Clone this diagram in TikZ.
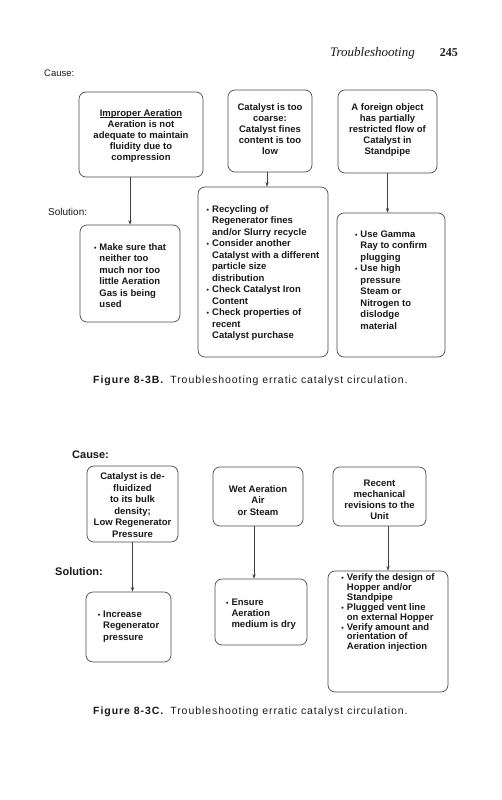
\documentclass[tikz,border=0pt]{standalone}
\usepackage{fontspec}
\setmainfont{Liberation Sans}
\newfontfamily\serifhead{Liberation Serif}
\newfontfamily\capfont{Liberation Sans}[LetterSpace=9]
\usetikzlibrary{arrows.meta}
\newcommand{\bxt}[4]{\parbox[c][#1][t]{#2}{\vspace*{#3}\centering #4}}
\newcommand{\bl}{{\fontsize{7}{7}\selectfont\textbullet}}
\newlength{\ulw}
\newcommand{\ulin}[1]{\settowidth{\ulw}{#1}\rlap{\rule[-1.8pt]{\ulw}{0.6pt}}#1}
\begin{document}
\begin{tikzpicture}[x=1pt,y=-1pt,
  box/.style={draw=black!70, line width=0.7pt, rounded corners=7pt, inner sep=0pt, text=black!90},
  arr/.style={draw=black!75, line width=0.6pt, -{Stealth[length=4.5pt,width=3.2pt]}},
  lab/.style={inner sep=0pt, text=black!90}]
\useasboundingbox (0,0) rectangle (501,800);
\fill[white] (0,0) rectangle (501,800);

% header
\node[lab, anchor=east, font=\serifhead\itshape\fontsize{13}{13}\selectfont] (hdr) at (415,53) {Troubleshooting};
\node[lab, anchor=east, font=\serifhead\bfseries\fontsize{12}{12}\selectfont] (pg) at (458,53) {245};

% ---------- Figure 8-3B ----------
\node[lab, anchor=west, font=\fontsize{9.5}{10}\selectfont] (causeB) at (44,73) {Cause:};
\node[lab, anchor=west, font=\fontsize{10}{11}\selectfont] (solB) at (48,212) {Solution:};

\node[box, minimum width=124pt, minimum height=85pt] (b1) at (141,134.5)
 {\bxt{85pt}{120pt}{16.5pt}{\bfseries\fontsize{9.5}{11}\selectfont
 \begin{tabular}{@{}c@{}}\ulin{Improper Aeration}\\ Aeration is not\\ adequate to maintain\\ fluidity due to\\ compression\end{tabular}}};
\node[box, minimum width=84pt, minimum height=82pt] (b2) at (270,131)
 {\bxt{82pt}{82pt}{12.5pt}{\bfseries\fontsize{9.5}{11}\selectfont
 \begin{tabular}{@{}c@{}}Catalyst is too\\ coarse:\\ Catalyst fines\\ content is too\\ low\end{tabular}}};
\node[box, minimum width=99pt, minimum height=83pt] (b3) at (387.5,131.5)
 {\bxt{83pt}{97pt}{12.5pt}{\bfseries\fontsize{9.5}{11}\selectfont
 \begin{tabular}{@{}c@{}}A foreign object\\ has partially\\ restricted flow of\\ Catalyst in\\ Standpipe\end{tabular}}};

\node[box, minimum width=100pt, minimum height=97pt] (s1) at (130,273.5)
 {\bxt{97pt}{98pt}{17pt}{\bfseries\fontsize{9.5}{11.5}\selectfont
 \begin{tabular}{@{}l@{\hspace{3pt}}l@{}}\bl & Make sure that\\ & neither too\\ & much nor too\\ & little Aeration\\ & Gas is being\\ & used\end{tabular}}};
\node[box, minimum width=130pt, minimum height=170pt] (s2) at (263,272)
 {\bxt{170pt}{128pt}{17pt}{\bfseries\fontsize{9.5}{11.5}\selectfont
 \begin{tabular}{@{}l@{\hspace{3pt}}l@{}}\bl & Recycling of\\ & Regenerator fines\\ & and/or Slurry recycle\\
 \bl & Consider another\\ & Catalyst with a different\\ & particle size\\ & distribution\\
 \bl & Check Catalyst Iron\\ & Content\\
 \bl & Check properties of\\ & recent\\ & Catalyst purchase\end{tabular}}};
\node[box, minimum width=108pt, minimum height=144pt] (s3) at (391,285)
 {\bxt{144pt}{106pt}{16pt}{\bfseries\fontsize{9.5}{11.5}\selectfont
 \begin{tabular}{@{}l@{\hspace{3pt}}l@{}}\bl & Use Gamma\\ & Ray to confirm\\ & plugging\\
 \bl & Use high\\ & pressure\\ & Steam or\\ & Nitrogen to\\ & dislodge\\ & material\end{tabular}}};

\draw[arr] (b1.south -| s1.north) -- (s1.north);
\draw[arr] ([xshift=-3pt]b2.south) -- ([xshift=-3pt]b2.south |- s2.north);
\draw[arr] (b3.south) -- (b3.south |- s3.north);

\node[lab, anchor=west, font=\capfont\fontsize{10.5}{12}\selectfont] (capB) at (93,381)
 {{\bfseries Figure 8-3B.}\hspace{7pt}Troubleshooting erratic catalyst circulation.};

% ---------- Figure 8-3C ----------
\node[lab, anchor=west, font=\bfseries\fontsize{11}{12}\selectfont] (causeC) at (72,455) {Cause:};
\node[lab, anchor=west, font=\bfseries\fontsize{11}{12}\selectfont] (solC) at (55,572) {Solution:};

\node[box, minimum width=91pt, minimum height=76pt] (c1) at (132.5,504)
 {\bxt{76pt}{89pt}{5.5pt}{\bfseries\fontsize{9.5}{11.5}\selectfont
 \begin{tabular}{@{}c@{}}Catalyst is de-\\ fluidized\\ to its bulk\\ density;\\ Low Regenerator\\ Pressure\end{tabular}}};
\node[box, minimum width=90pt, minimum height=59pt] (c2) at (258,496.5)
 {\bxt{59pt}{88pt}{17pt}{\bfseries\fontsize{9.5}{11.5}\selectfont
 \begin{tabular}{@{}c@{}}Wet Aeration\\ Air\\ or Steam\end{tabular}}};
\node[box, minimum width=93pt, minimum height=59pt] (c3) at (379.5,496.5)
 {\bxt{59pt}{91pt}{12pt}{\bfseries\fontsize{9.5}{11}\selectfont
 \begin{tabular}{@{}c@{}}Recent\\ mechanical\\ revisions to the\\ Unit\end{tabular}}};

\node[box, minimum width=85pt, minimum height=70pt] (cs1) at (128.5,627)
 {\bxt{70pt}{83pt}{17pt}{\bfseries\fontsize{9.5}{11.5}\selectfont
 \begin{tabular}{@{}l@{\hspace{3pt}}l@{}}\bl & Increase\\ & Regenerator\\ & pressure\end{tabular}}};
\node[box, minimum width=92pt, minimum height=66pt] (cs2) at (261,612)
 {\bxt{66pt}{90pt}{18.5pt}{\bfseries\fontsize{9.5}{11.2}\selectfont
 \begin{tabular}{@{}l@{\hspace{3pt}}l@{}}\bl & Ensure\\ & Aeration\\ & medium is dry\end{tabular}}};
\node[box, minimum width=120pt, minimum height=121pt] (cs3) at (388,631.5)
 {\bxt{121pt}{118pt}{3pt}{\bfseries\fontsize{9.5}{9.8}\selectfont
 \begin{tabular}{@{}l@{\hspace{3pt}}l@{}}\bl & Verify the design of\\ & Hopper and/or\\ & Standpipe\\
 \bl & Plugged vent line\\ & on external Hopper\\
 \bl & Verify amount and\\ & orientation of\\ & Aeration injection\end{tabular}}};

\draw[arr] (c1.south) -- (c1.south |- cs1.north);
\draw[arr] ([xshift=-4pt]c2.south) -- ([xshift=-4pt]c2.south |- cs2.north);
\draw[arr] (c3.south -| cs3.north) -- (cs3.north);

\node[lab, anchor=west, font=\capfont\fontsize{10.5}{12}\selectfont] (capC) at (93,712)
 {{\bfseries Figure 8-3C.}\hspace{7pt}Troubleshooting erratic catalyst circulation.};
\end{tikzpicture}
\end{document}
